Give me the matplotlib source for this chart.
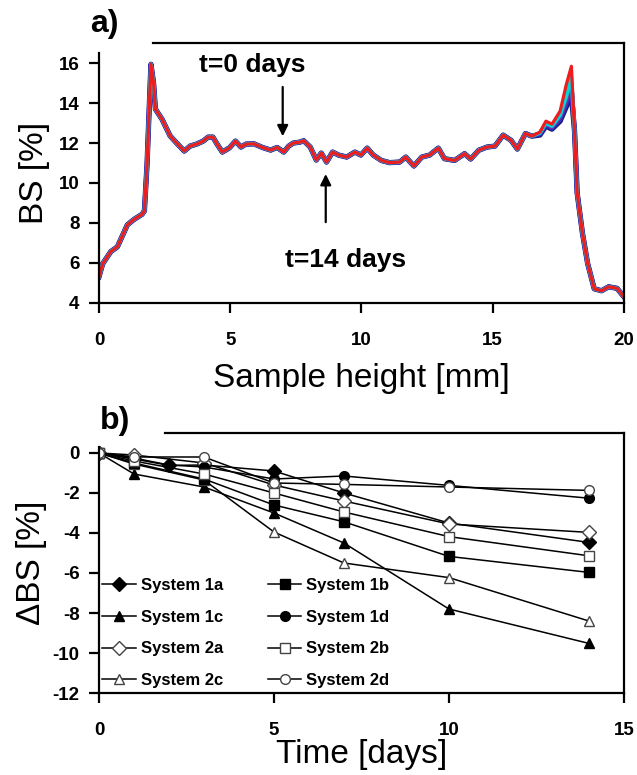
import numpy as np
import matplotlib
matplotlib.use('Agg')
import matplotlib.pyplot as plt

plt.rcParams['font.family'] = ['Liberation Sans', 'DejaVu Sans']
plt.rcParams['axes.unicode_minus'] = False

# ---- panel a: backscattering profiles ----
head_x = [0.0, 0.14, 0.45, 0.70, 1.08, 1.33, 1.64, 1.73, 1.83, 1.93, 1.98, 2.08, 2.15, 2.4,
          2.71, 2.96, 3.25, 3.47, 3.72, 3.97, 4.16, 4.34, 4.5, 4.7, 4.97, 5.2, 5.41, 5.6,
          5.91, 6.23, 6.54, 6.79, 7.04, 7.23, 7.4, 7.66, 7.8, 8.05, 8.28, 8.47, 8.67, 8.9,
          9.13, 9.44, 9.75, 9.98, 10.22, 10.45, 10.76, 11.07, 11.46, 11.69, 12.0, 12.3,
          12.6, 12.93, 13.16, 13.55, 13.93, 14.16, 14.47, 14.78, 15.09, 15.4, 15.7, 15.94,
          16.25, 16.49]
head_y = [5.3, 5.95, 6.56, 6.8, 7.9, 8.17, 8.43, 8.6, 10.9, 14.3, 15.95, 15.0, 13.7, 13.2,
          12.36, 12.0, 11.6, 11.85, 11.95, 12.1, 12.3, 12.3, 11.95, 11.55, 11.76, 12.1, 11.8, 11.95,
          11.96, 11.78, 11.65, 11.78, 11.55, 11.85, 12.0, 12.05, 12.12, 11.8, 11.15, 11.5, 11.05, 11.55,
          11.4, 11.3, 11.55, 11.4, 11.75, 11.4, 11.13, 11.02, 11.05, 11.3, 10.85, 11.3,
          11.4, 11.75, 11.22, 11.13, 11.47, 11.2, 11.64, 11.8, 11.85, 12.4, 12.14, 11.7,
          12.48, 12.35]

peak_x = [16.8, 17.03, 17.26, 17.57, 17.8, 18.0]
peak_navy = [12.4, 12.85, 12.7, 13.1, 13.8, 14.4]
peak_blue = [12.45, 12.9, 12.75, 13.2, 13.95, 14.8]
peak_purple = [12.5, 12.95, 12.8, 13.3, 14.1, 15.0]
peak_cyan = [12.5, 13.0, 12.85, 13.4, 14.3, 15.3]
peak_red = [12.55, 13.1, 12.95, 13.6, 14.9, 15.85]

foot_x = [18.12, 18.22, 18.42, 18.62, 18.87, 19.15, 19.42, 19.74, 20.0]
foot_y = [12.6, 9.5, 7.5, 5.96, 4.7, 4.6, 4.8, 4.72, 4.3]

profiles = [('#1c1c6e', peak_navy, 3.8),
            ('#2b2bd6', peak_blue, 3.4),
            ('#7b2d8e', peak_purple, 3.0),
            ('#00d8e0', peak_cyan, 2.7),
            ('#ee1c1c', peak_red, 2.3)]

# ---- panel b: delta BS over time ----
t_1a = [0, 1, 2, 3, 5, 7, 10, 14]
bs_1a = [0, -0.3, -0.62, -0.6, -0.9, -2.0, -3.5, -4.47]
t_1b = [0, 1, 3, 5, 7, 10, 14]
bs_1b = [0, -0.5, -1.3, -2.6, -3.44, -5.17, -5.97]
t_1c = [0, 1, 3, 5, 7, 10, 14]
bs_1c = [0, -1.05, -1.7, -3.0, -4.5, -7.8, -9.52]
t_1d = [0, 1, 2, 3, 5, 7, 10, 14]
bs_1d = [0, -0.25, -0.6, -0.7, -1.3, -1.15, -1.62, -2.26]
t_2a = [0, 1, 3, 5, 7, 10, 14]
bs_2a = [0, -0.1, -0.5, -1.6, -2.4, -3.55, -3.97]
t_2b = [0, 1, 3, 5, 7, 10, 14]
bs_2b = [0, -0.4, -1.05, -2.0, -2.95, -4.18, -5.14]
t_2c = [0, 1, 3, 5, 7, 10, 14]
bs_2c = [0, -0.55, -1.35, -3.95, -5.5, -6.23, -8.4]
t_2d = [0, 1, 3, 5, 7, 10, 14]
bs_2d = [0, -0.2, -0.2, -1.5, -1.57, -1.7, -1.87]

# legend order = column by column (col1: 1a,1c,2a,2c ; col2: 1b,1d,2b,2d)
systems = [('System 1a', t_1a, bs_1a, 'D', True),
           ('System 1c', t_1c, bs_1c, '^', True),
           ('System 2a', t_2a, bs_2a, 'D', False),
           ('System 2c', t_2c, bs_2c, '^', False),
           ('System 1b', t_1b, bs_1b, 's', True),
           ('System 1d', t_1d, bs_1d, 'o', True),
           ('System 2b', t_2b, bs_2b, 's', False),
           ('System 2d', t_2d, bs_2d, 'o', False)]


fig = plt.figure(figsize=(6.37, 7.75), dpi=100)

# ---------------- panel a ----------------
ax1 = fig.add_axes([0.1554, 0.6094, 0.824, 0.3347])
for color, peak, lw in profiles:
    xs = head_x + peak_x + foot_x
    ys = head_y + peak + foot_y
    ax1.plot(xs, ys, color=color, lw=lw, solid_joinstyle='round')

ax1.set_xlim(0, 20)
ax1.set_ylim(4, 17)
ax1.set_xticks([0, 5, 10, 15, 20])
ax1.set_yticks([4, 6, 8, 10, 12, 14, 16])
ax1.spines['top'].set_bounds(2.07, 20)
ax1.spines['left'].set_bounds(4, 16.5)
for s in ax1.spines.values():
    s.set_linewidth(1.6)
ax1.tick_params(axis='y', direction='out', length=7, width=1.6, labelsize=13.5, pad=7)
ax1.tick_params(axis='x', direction='out', length=7, width=1.6, labelsize=13.5, pad=14)
for lab in ax1.get_xticklabels() + ax1.get_yticklabels():
    lab.set_fontweight('bold')
ax1.set_ylabel('BS [%]', fontsize=24, labelpad=6)
ax1.set_xlabel('Sample height [mm]', fontsize=24, labelpad=10)

ax1.annotate('', xy=(7.0, 12.2), xytext=(7.0, 14.95),
             arrowprops=dict(arrowstyle='-|>', color='black', lw=1.6, mutation_scale=16))
ax1.text(5.84, 15.9, 't=0 days', ha='center', va='center', fontsize=19, fontweight='bold')
ax1.annotate('', xy=(8.64, 10.59), xytext=(8.64, 7.9),
             arrowprops=dict(arrowstyle='-|>', color='black', lw=1.6, mutation_scale=16))
ax1.text(9.41, 6.15, 't=14 days', ha='center', va='center', fontsize=19, fontweight='bold')
fig.text(0.141, 0.969, 'a)', fontsize=23, fontweight='bold', ha='left', va='center')

# ---------------- panel b ----------------
ax2 = fig.add_axes([0.1554, 0.1058, 0.824, 0.3355])
for label, t, bs, mk, filled in systems:
    if filled:
        ax2.plot(t, bs, color='black', lw=1.1, marker=mk, ms=7, mfc='black', mec='black', label=label)
    else:
        ax2.plot(t, bs, color='black', lw=1.1, marker=mk, ms=7, mfc='white', mec='#444444',
                 mew=1.0, label=label)

ax2.set_xlim(0, 15)
ax2.set_ylim(-12, 1)
ax2.set_xticks([0, 5, 10, 15])
ax2.set_yticks(np.arange(-12, 1, 2))
ax2.spines['top'].set_bounds(1.9, 15)
ax2.spines['left'].set_bounds(-12, 0.3)
for s in ax2.spines.values():
    s.set_linewidth(1.6)
ax2.tick_params(axis='y', direction='out', length=7, width=1.6, labelsize=13.5, pad=7)
ax2.tick_params(axis='x', direction='out', length=7, width=1.6, labelsize=13.5, pad=14)
for lab in ax2.get_xticklabels() + ax2.get_yticklabels():
    lab.set_fontweight('bold')
ax2.set_ylabel('\u0394BS [%]', fontsize=24, labelpad=4)
ax2.set_xlabel('Time [days]', fontsize=24, labelpad=0)
fig.text(0.157, 0.457, 'b)', fontsize=23, fontweight='bold', ha='left', va='center')

ax2.legend(loc='upper left', bbox_to_anchor=(0.0, 0.455), ncol=2, frameon=False,
           prop=dict(size=12, weight='bold'), handlelength=2.0, handletextpad=0.3,
           columnspacing=2.7, labelspacing=1.0, borderpad=0.2, borderaxespad=0.0)

fig.savefig('out.png', dpi=100)
